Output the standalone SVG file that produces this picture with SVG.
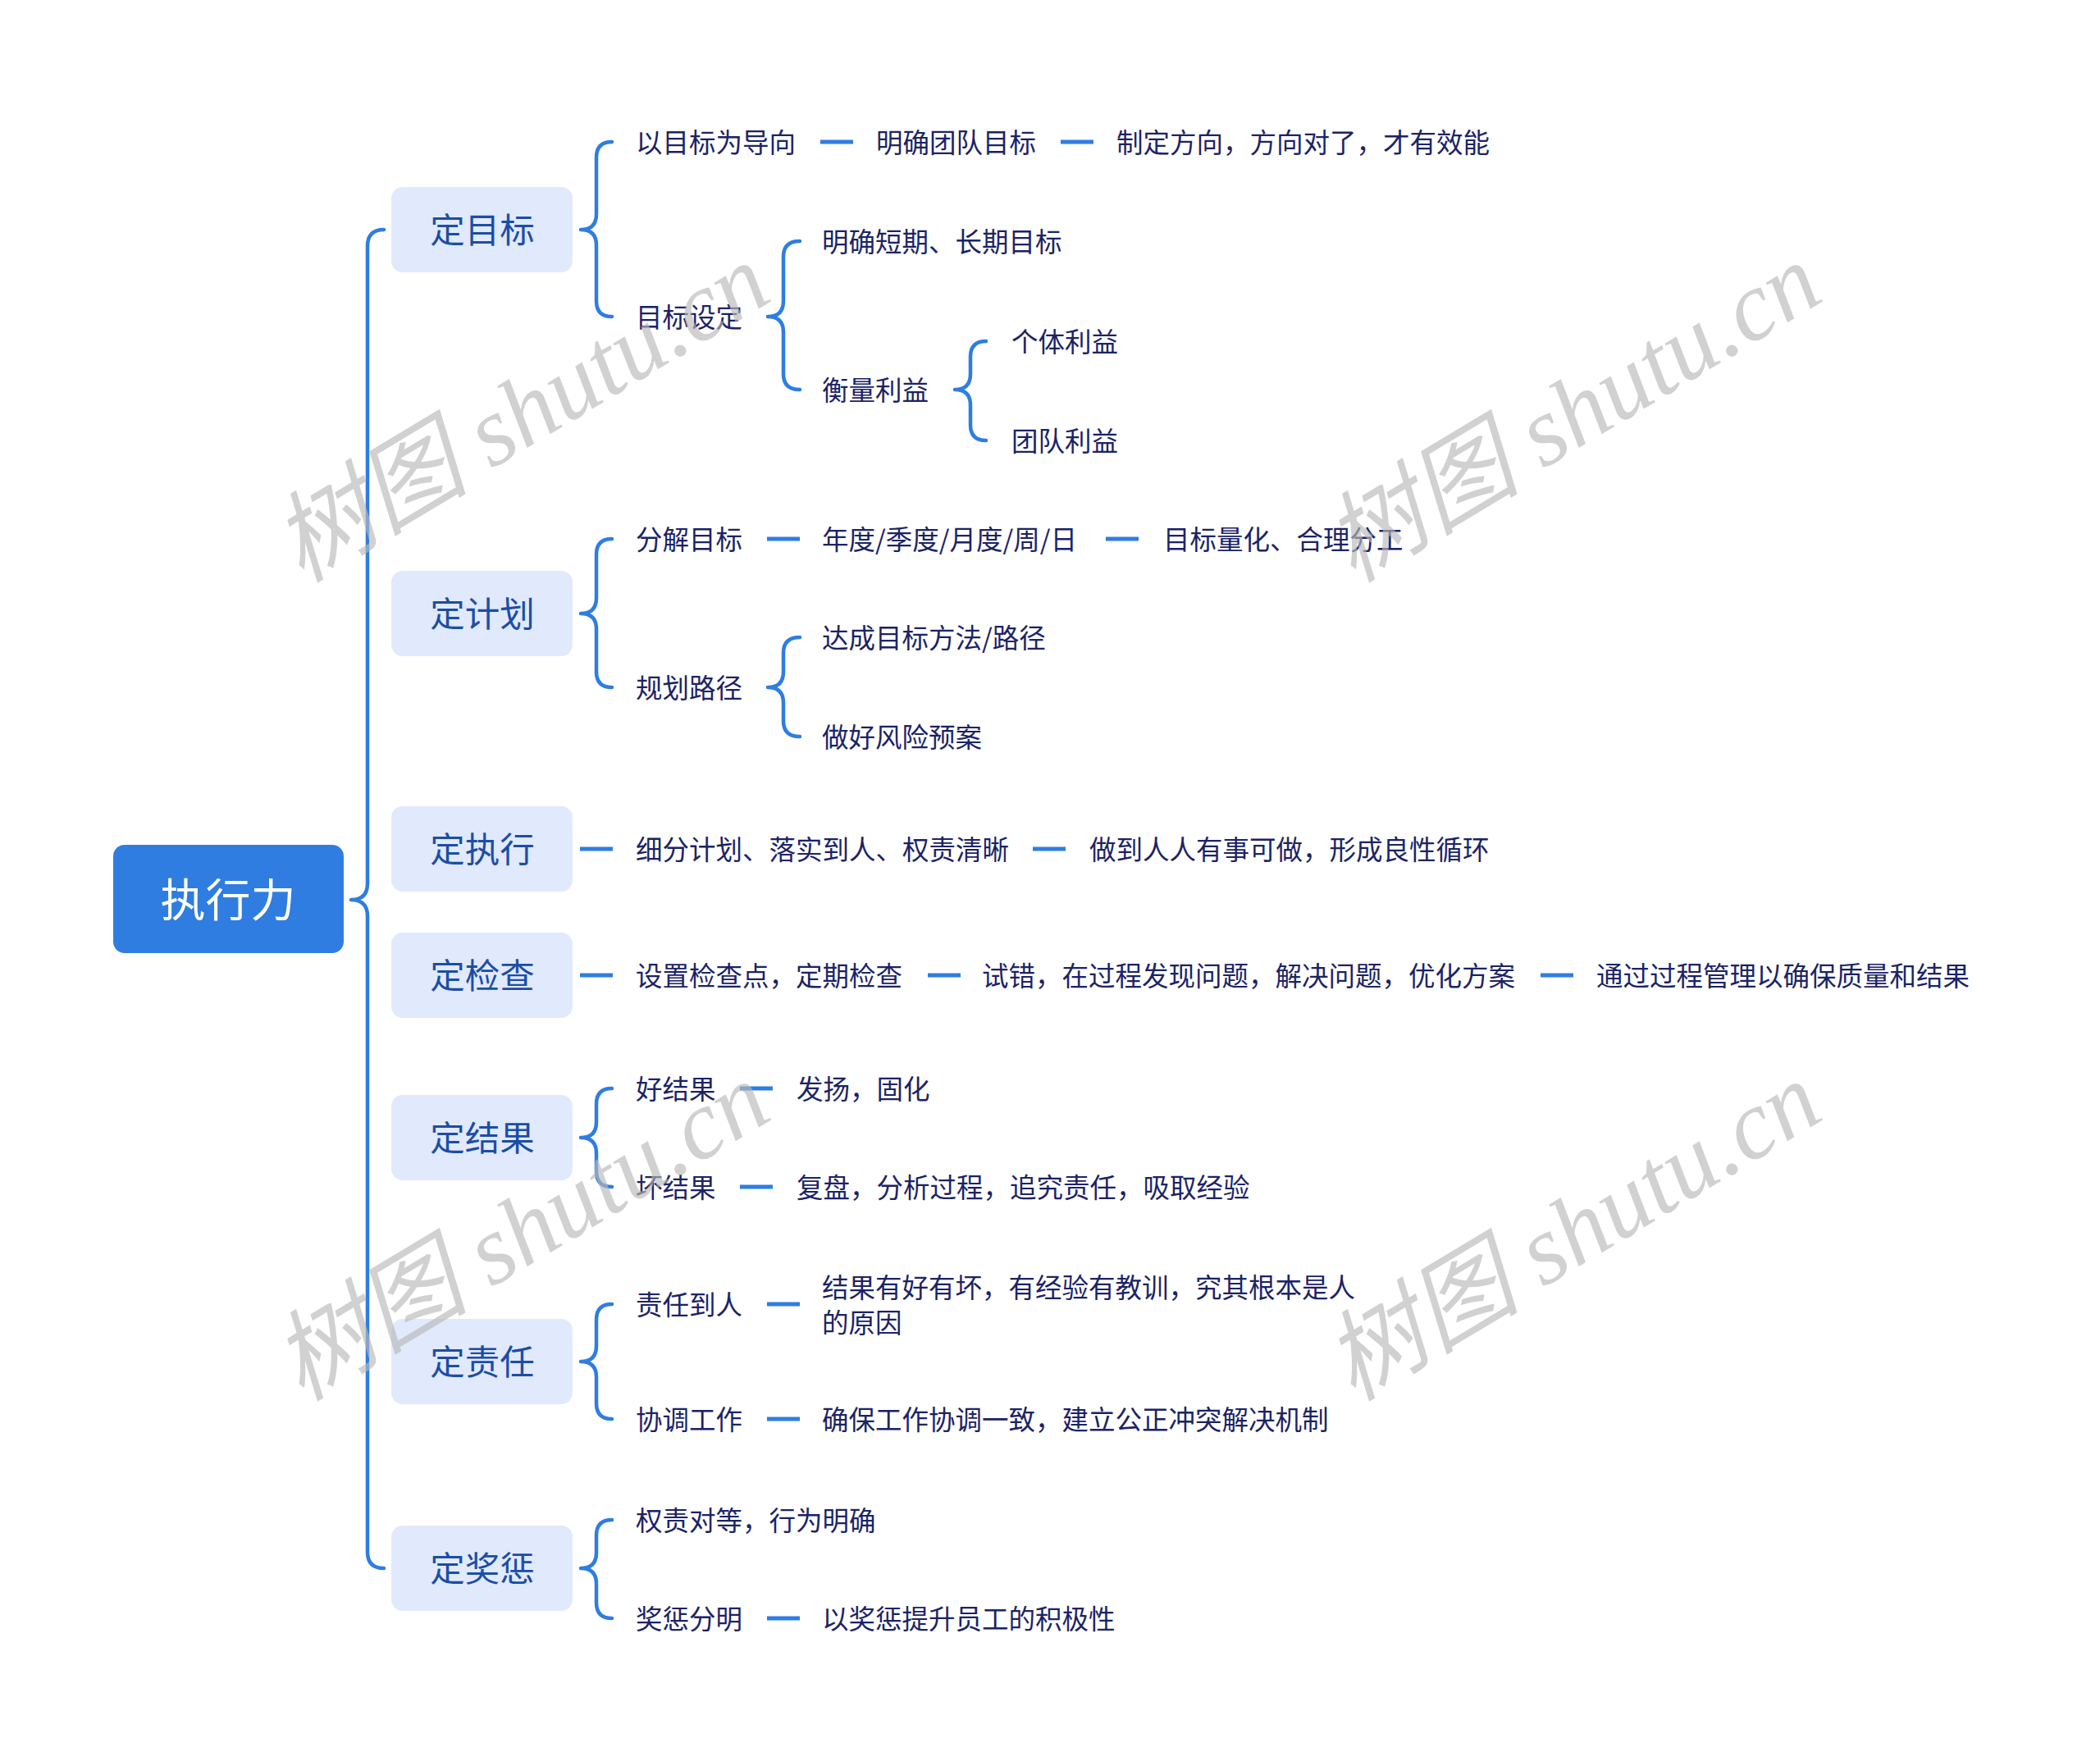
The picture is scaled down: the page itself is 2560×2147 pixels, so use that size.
<svg xmlns="http://www.w3.org/2000/svg" width="2560" height="2147" viewBox="0 0 2560 2147">
<style>
.root{fill:#2f7de1}
.rootT{font-family:"Noto Sans CJK SC","Noto Sans",sans-serif;font-size:55px;fill:#ffffff;text-anchor:middle;dominant-baseline:central}
.main{fill:#e1e9fc}
.mainT{font-family:"Noto Sans CJK SC","Noto Sans",sans-serif;font-size:42.5px;fill:#1b4ea6;text-anchor:middle;dominant-baseline:central}
.sub{font-family:"Noto Sans CJK SC","Noto Sans",sans-serif;font-size:32.5px;fill:#1b2366;dominant-baseline:central}
.br{fill:none;stroke:#2f7de1;stroke-width:4.5;stroke-linecap:round;stroke-linejoin:round}
.dash{stroke:#2f7de1;stroke-width:5}
.wm{font-family:"Liberation Serif","Noto Sans CJK SC",serif;font-style:italic;font-size:120px;fill:#b8b8b8;fill-opacity:0.65;text-anchor:middle}
</style>
<rect width="2560" height="2147" fill="#ffffff"/>

<g id="connectors">
<path class="br" d="M468,280 Q448,280 448,300 L448,1077 Q448,1097 428,1097 Q448,1097 448,1117 L448,1892 Q448,1912 468,1912"/>
<path class="br" d="M746,173 Q727,173 727,192 L727,261 Q727,280 708,280 Q727,280 727,299 L727,367 Q727,386 746,386"/>
<path class="br" d="M975,294 Q955,294 955,313 L955,367 Q955,386 936,386 Q955,386 955,405 L955,456 Q955,475 975,475"/>
<path class="br" d="M1202,416 Q1183,416 1183,435 L1183,456 Q1183,475 1164,475 Q1183,475 1183,494 L1183,518 Q1183,537 1202,537"/>
<path class="br" d="M746,657 Q727,657 727,676 L727,729 Q727,748 708,748 Q727,748 727,767 L727,819 Q727,838 746,838"/>
<path class="br" d="M975,777 Q955,777 955,796 L955,819 Q955,838 936,838 Q955,838 955,857 L955,879 Q955,898 975,898"/>
<path class="br" d="M746,1327 Q727,1327 727,1346 L727,1368 Q727,1387 708,1387 Q727,1387 727,1406 L727,1428 Q727,1447 746,1447"/>
<path class="br" d="M746,1590 Q727,1590 727,1609 L727,1641 Q727,1660 708,1660 Q727,1660 727,1679 L727,1711 Q727,1730 746,1730"/>
<path class="br" d="M746,1853 Q727,1853 727,1872 L727,1893 Q727,1912 708,1912 Q727,1912 727,1931 L727,1954 Q727,1973 746,1973"/>
<line class="dash" x1="1000" y1="173" x2="1040" y2="173"/>
<line class="dash" x1="1293" y1="173" x2="1333" y2="173"/>
<line class="dash" x1="935" y1="657" x2="975" y2="657"/>
<line class="dash" x1="1348" y1="657" x2="1388" y2="657"/>
<line class="dash" x1="707" y1="1035" x2="747" y2="1035"/>
<line class="dash" x1="1259" y1="1035" x2="1299" y2="1035"/>
<line class="dash" x1="707" y1="1189" x2="747" y2="1189"/>
<line class="dash" x1="1131" y1="1189" x2="1171" y2="1189"/>
<line class="dash" x1="1878" y1="1189" x2="1918" y2="1189"/>
<line class="dash" x1="902" y1="1327" x2="942" y2="1327"/>
<line class="dash" x1="902" y1="1447" x2="942" y2="1447"/>
<line class="dash" x1="935" y1="1590" x2="975" y2="1590"/>
<line class="dash" x1="935" y1="1730" x2="975" y2="1730"/>
<line class="dash" x1="935" y1="1973" x2="975" y2="1973"/>
</g>

<g id="root"><rect class="root" x="138" y="1030" width="281" height="132" rx="14"/><text class="rootT" x="278" y="1093">执行力</text></g>

<g id="n-mubiao"><rect class="main" x="477" y="228" width="221" height="104" rx="14"/><text class="mainT" x="588" y="277">定目标</text></g>
<g id="n-jihua"><rect class="main" x="477" y="696" width="221" height="104" rx="14"/><text class="mainT" x="588" y="745">定计划</text></g>
<g id="n-zhixing"><rect class="main" x="477" y="983" width="221" height="104" rx="14"/><text class="mainT" x="588" y="1032">定执行</text></g>
<g id="n-jiancha"><rect class="main" x="477" y="1137" width="221" height="104" rx="14"/><text class="mainT" x="588" y="1186">定检查</text></g>
<g id="n-jieguo"><rect class="main" x="477" y="1335" width="221" height="104" rx="14"/><text class="mainT" x="588" y="1384">定结果</text></g>
<g id="n-zeren"><rect class="main" x="477" y="1608" width="221" height="104" rx="14"/><text class="mainT" x="588" y="1657">定责任</text></g>
<g id="n-jiangcheng"><rect class="main" x="477" y="1860" width="221" height="104" rx="14"/><text class="mainT" x="588" y="1909">定奖惩</text></g>

<g id="t1"><text class="sub" x="775" y="171">以目标为导向</text></g>
<g id="t2"><text class="sub" x="1068" y="171">明确团队目标</text></g>
<g id="t3"><text class="sub" x="1361" y="171">制定方向，方向对了，才有效能</text></g>
<g id="t4"><text class="sub" x="775" y="384">目标设定</text></g>
<g id="t5"><text class="sub" x="1002" y="292">明确短期、长期目标</text></g>
<g id="t6"><text class="sub" x="1002" y="473">衡量利益</text></g>
<g id="t7"><text class="sub" x="1233" y="414">个体利益</text></g>
<g id="t8"><text class="sub" x="1233" y="535">团队利益</text></g>
<g id="t9"><text class="sub" x="775" y="655">分解目标</text></g>
<g id="t10"><text class="sub" x="1002" y="655">年度/季度/月度/周/日</text></g>
<g id="t11"><text class="sub" x="1418" y="655">目标量化、合理分工</text></g>
<g id="t12"><text class="sub" x="775" y="836">规划路径</text></g>
<g id="t13"><text class="sub" x="1002" y="775">达成目标方法/路径</text></g>
<g id="t14"><text class="sub" x="1002" y="896">做好风险预案</text></g>
<g id="t15"><text class="sub" x="775" y="1033">细分计划、落实到人、权责清晰</text></g>
<g id="t16"><text class="sub" x="1328" y="1033">做到人人有事可做，形成良性循环</text></g>
<g id="t17"><text class="sub" x="775" y="1187">设置检查点，定期检查</text></g>
<g id="t18"><text class="sub" x="1197" y="1187">试错，在过程发现问题，解决问题，优化方案</text></g>
<g id="t19"><text class="sub" x="1946" y="1187">通过过程管理以确保质量和结果</text></g>
<g id="t20"><text class="sub" x="775" y="1325">好结果</text></g>
<g id="t21"><text class="sub" x="971" y="1325">发扬，固化</text></g>
<g id="t22"><text class="sub" x="775" y="1445">坏结果</text></g>
<g id="t23"><text class="sub" x="971" y="1445">复盘，分析过程，追究责任，吸取经验</text></g>
<g id="t24"><text class="sub" x="775" y="1588">责任到人</text></g>
<g id="t25"><text class="sub" x="1002" y="1567">结果有好有坏，有经验有教训，究其根本是人</text><text class="sub" x="1002" y="1610">的原因</text></g>
<g id="t26"><text class="sub" x="775" y="1728">协调工作</text></g>
<g id="t27"><text class="sub" x="1002" y="1728">确保工作协调一致，建立公正冲突解决机制</text></g>
<g id="t28"><text class="sub" x="775" y="1851">权责对等，行为明确</text></g>
<g id="t29"><text class="sub" x="775" y="1971">奖惩分明</text></g>
<g id="t30"><text class="sub" x="1002" y="1971">以奖惩提升员工的积极性</text></g>

<g id="watermarks">
<text class="wm" transform="translate(656,538) rotate(-31)">树图 shutu.cn</text>
<text class="wm" transform="translate(1938,538) rotate(-31)">树图 shutu.cn</text>
<text class="wm" transform="translate(656,1536) rotate(-31)">树图 shutu.cn</text>
<text class="wm" transform="translate(1938,1536) rotate(-31)">树图 shutu.cn</text>
</g>
</svg>
